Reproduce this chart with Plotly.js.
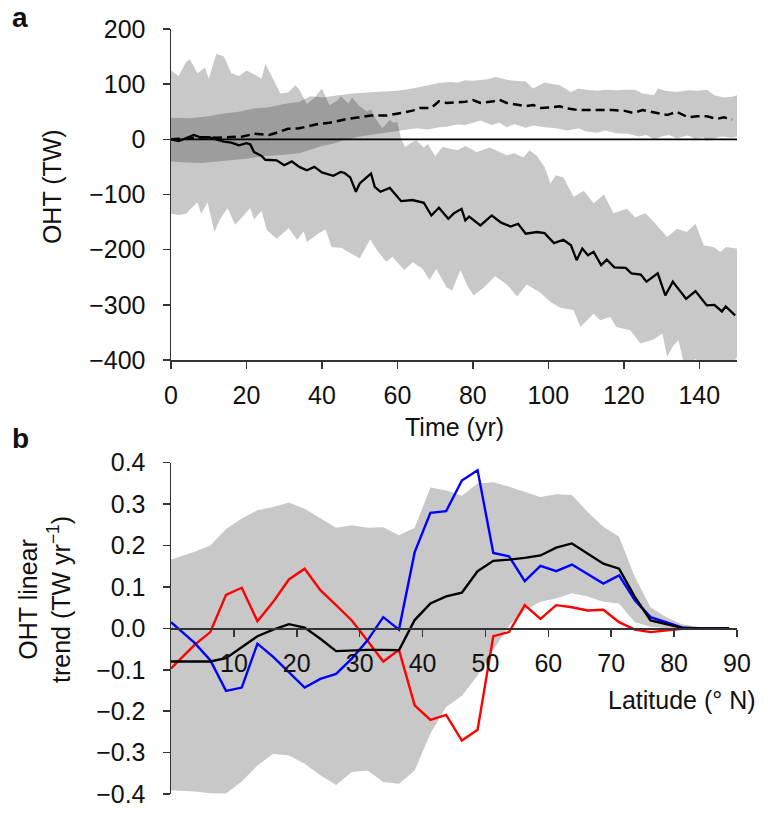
<!DOCTYPE html>
<html><head><meta charset="utf-8">
<script src="https://cdn.plot.ly/plotly-3.0.1.min.js"></script>
<style>html,body{margin:0;padding:0;background:#fff}#chart{width:768px;height:822px}</style>
</head><body><div id="chart"></div><script>
// ---------- Panel a data (Time in yr, OHT in TW) ----------
const solidT = [0,2,4,6,8,10,12,14,16,18,20,21,22,24,25,28,30,32,34,36,38,40,43,45,46,47.5,49,50,52,53,54,55.5,58,61,64,67,69,71,73.5,75,77,78,79,82,85,87.5,90,92,94,97,99,101.5,104,106,107.5,109,110.5,112,114,115.5,117.5,120.5,122,124.5,126,129,131,133,134,136.5,139,140.5,142,144,146,147,149.5];
const solidV = [0,-3,2,8,3,4,0,-4,-6,-11,-7,-9,-23,-30,-37,-38,-47,-40,-50,-56,-50,-60,-66,-59,-61,-69,-95,-80,-68,-62,-86,-95,-88,-112,-110,-115,-138,-124,-144,-134,-126,-147,-140,-156,-138,-151,-158,-153,-171,-168,-170,-188,-182,-192,-219,-198,-210,-204,-228,-218,-232,-233,-243,-245,-258,-243,-283,-258,-267,-289,-275,-289,-301,-300,-312,-303,-319];

const dashT = [0,4,8,12,16,19,22,26,28,31,34,36,39,42,46,50,53,57,60,62,64,66,69,71,73,76,78,80,82,85.5,87,89,92,94,96,98,101,103,105,107,110,112,115,117,120,122.5,125,128,131.5,134,137,139.5,142,144.7,146.5,148.7];
const dashV = [0,2,4,3,4,5,10,8,12,19,20,23,28,30,36,40,43,43,46,49,52,57,57,69,66,67,68,71,66,69,72,66,63,60,62,57,58,60,56,54,53,53,54,53,52,48,53,49,44,50,40,42,42,37,40,36];

const solidUpT = [0,2,4,5,7,9,10,12,14,16,18,20,22,24,25,27,29,31,33,34,36,38,40,42,44,45,47,48,50,52,53,54,56,57,58,59,60,61,62,64,65,67,68,70,72,74,76,78,81,84.5,87,89,91,93.4,95,97,99,100.6,102,104,106.7,109.4,112,114.7,117.3,120.8,123,125.7,128,131.5,134.1,136.7,139,141.2,143.8,145.6,147,149.2,150];
const solidUpV = [125,115,140,145,120,130,110,155,150,120,115,125,118,110,137,110,83,85,98,90,64,75,92,62,70,78,65,76,60,50,55,40,20,28,35,30,32,0,-14,-5,-2,-15,-8,-30,-14,-17,-20,-12,-23,-15,-22,-29,-25,-33,-20,-30,-50,-80,-65,-69,-104,-93,-116,-100,-134,-126,-141,-134,-150,-177,-162,-168,-153,-192,-195,-204,-195,-198,-198];
const solidLoT = [0,2,4,7,8,9.7,11.5,13,15,17,19,21,22,24,25.4,28,31.2,33.4,35.2,36,38.8,41,42.5,45.2,47,50,52.8,54.5,57,58.7,61.8,64.1,66.7,68.5,70.3,73,74.5,76.7,78.5,80.2,83,85.9,89,91.7,94.3,97.9,100.6,103,106.7,108.5,112,113.8,116.4,118,121.7,124.4,127.9,130.2,131.5,133,134.5,136,139,142,145,148.3,150];
const solidLoV = [-135,-137,-135,-114,-135,-114,-168,-145,-125,-155,-140,-125,-145,-130,-165,-180,-161,-182,-167,-186,-172,-163,-195,-197,-204,-216,-181,-200,-222,-213,-237,-223,-235,-255,-235,-268,-274,-237,-265,-283,-268,-248,-263,-285,-263,-278,-295,-305,-310,-340,-316,-328,-322,-340,-346,-370,-363,-352,-394,-375,-364,-410,-398,-420,-405,-412,-395];

const dashUpT = [0,5,10,14,18,22,26,30,34,37,40,44,48,52,56,60,64,68,71,74,76,78,80,84,86,89,91,94,96,99,101,103,106,108,110,113,115,118,120,123,125,128,129,131,134,137,139.5,142,144,146.5,148.7,150];
const dashUpV = [39,38,42,47,50,56,58,64,68,78,76,80,83,85,86,88,92,97,102,104,103,107,106,109,113,108,106,105,92,103,100,98,86,92,90,88,90,89,90,90,83,80,92,88,86,89,88,90,80,76,77,80];
const dashLoT = [0,4,8,12,16,20,25,30,34,37,40,43,46,50,55,60,65,68,71,73,76,78,80,82,85,87,89,91,94,96,99,102,105,108,110,113,115,118,121,124,126,128,130,132,134,137,139,141,142,144,146,148.7,150];
const dashLoV = [-40,-42,-43,-40,-38,-35,-30,-28,-25,-18,-12,-8,-1,5,10,15,20,18,22,23,27,26,30,34,26,30,22,28,21,25,22,20,16,20,14,12,16,11,10,5,8,0,5,8,2,7,1,4,-3,2,5,3,5];

const yTicksA = [200,100,0,-100,-200,-300,-400];
const yTickTextA = ['200','100','0','\u2212100','\u2212200','\u2212300','\u2212400'];
const xTicksA = [0,20,40,60,80,100,120,140];

// ---------- Panel b data (Latitude in deg N, trend in TW/yr) ----------
const lat = [0,3.75,6.25,8.75,11.25,13.75,16.25,18.75,21.25,23.75,26.25,28.75,31.25,33.75,36.25,38.75,41.25,43.75,46.25,48.75,51.25,53.75,56.25,58.75,61.25,63.75,66.25,68.75,71.25,73.75,76.25,78.75,81.25,83.75,86.25,88.75];
const blackB = [-0.08,-0.08,-0.08,-0.072,-0.045,-0.019,-0.003,0.01,0.002,-0.025,-0.055,-0.053,-0.052,-0.052,-0.053,0.02,0.06,0.077,0.086,0.138,0.163,0.166,0.17,0.176,0.195,0.205,0.18,0.156,0.144,0.076,0.019,0.01,0.001,0,0,0];
const blueB = [0.015,-0.035,-0.077,-0.151,-0.143,-0.037,-0.069,-0.105,-0.143,-0.122,-0.11,-0.073,-0.029,0.027,-0.003,0.184,0.279,0.283,0.357,0.382,0.182,0.174,0.114,0.151,0.138,0.154,0.132,0.108,0.128,0.068,0.027,0.015,0.002,0,0,0];
const redB = [-0.097,-0.04,-0.009,0.081,0.098,0.017,0.064,0.118,0.144,0.092,0.056,0.019,-0.03,-0.08,-0.052,-0.186,-0.221,-0.209,-0.271,-0.245,-0.019,-0.009,0.056,0.023,0.056,0.051,0.043,0.045,0.015,-0.003,-0.009,-0.005,-0.001,0,0,0];
const bandUpB = [0.166,0.185,0.2,0.24,0.265,0.285,0.293,0.304,0.289,0.265,0.243,0.249,0.243,0.244,0.225,0.243,0.34,0.333,0.32,0.35,0.353,0.342,0.329,0.317,0.324,0.322,0.281,0.245,0.221,0.124,0.051,0.027,0.01,0.004,0.001,0];
const bandLoB = [-0.391,-0.394,-0.398,-0.399,-0.37,-0.331,-0.303,-0.307,-0.327,-0.355,-0.378,-0.347,-0.343,-0.371,-0.375,-0.343,-0.254,-0.19,-0.163,-0.114,-0.053,0.007,0.043,0.064,0.072,0.085,0.077,0.064,0.06,0.015,0.004,0,0,0,0,0];

const yTicksB = [0.4,0.3,0.2,0.1,0,-0.1,-0.2,-0.3,-0.4];
const yTickTextB = ['0.4','0.3','0.2','0.1','0.0','\u22120.1','\u22120.2','\u22120.3','\u22120.4'];
const xTicksB = [10,20,30,40,50,60,70,80,90];

// ---------- helpers ----------
function polygon(upT, upV, loT, loV) {
  return {x: upT.concat(loT.slice().reverse()), y: upV.concat(loV.slice().reverse())};
}
const FONT = 'Liberation Sans, Arial, Helvetica, sans-serif';
const FS = 25;
const bandFill = 'rgba(0,0,0,0.215)';

const pa1 = polygon(solidUpT, solidUpV, solidLoT, solidLoV);
const pa2 = polygon(dashUpT, dashUpV, dashLoT, dashLoV);
const pb = polygon(lat, bandUpB, lat, bandLoB);

const traces = [
  {x: pa1.x, y: pa1.y, xaxis:'x', yaxis:'y', type:'scatter', mode:'lines', fill:'toself', fillcolor: bandFill, line:{width:0}, hoverinfo:'skip'},
  {x: pa2.x, y: pa2.y, xaxis:'x', yaxis:'y', type:'scatter', mode:'lines', fill:'toself', fillcolor: bandFill, line:{width:0}, hoverinfo:'skip'},
  {x: dashT, y: dashV, xaxis:'x', yaxis:'y', type:'scatter', mode:'lines', line:{color:'#000', width:2.5, dash:'9px,5px'}},
  {x: solidT, y: solidV, xaxis:'x', yaxis:'y', type:'scatter', mode:'lines', line:{color:'#000', width:2.3}},
  {x: pb.x, y: pb.y, xaxis:'x2', yaxis:'y2', type:'scatter', mode:'lines', fill:'toself', fillcolor:'#c8c8c8', line:{width:0}, hoverinfo:'skip'},
  {x: lat, y: redB, xaxis:'x2', yaxis:'y2', type:'scatter', mode:'lines', line:{color:'#ff0000', width:2.4}},
  {x: lat, y: blueB, xaxis:'x2', yaxis:'y2', type:'scatter', mode:'lines', line:{color:'#0000ff', width:2.4}},
  {x: lat, y: blackB, xaxis:'x2', yaxis:'y2', type:'scatter', mode:'lines', line:{color:'#000', width:2.4}}
];

const axCommon = {showgrid:false, zeroline:false, showline:true, linecolor:'#333', linewidth:1.5,
  ticks:'outside', ticklen:7, tickwidth:1.5, tickcolor:'#333', automargin:false,
  tickfont:{family:FONT, size:FS, color:'#111'}};

const layout = {
  width:768, height:822,
  margin:{l:171, r:31, t:29, b:28},
  paper_bgcolor:'#fff', plot_bgcolor:'rgba(0,0,0,0)',
  showlegend:false,
  font:{family:FONT, size:FS, color:'#111'},
  xaxis: Object.assign({}, axCommon, {domain:[0,1], range:[0,150], anchor:'y', tickmode:'array', tickvals:xTicksA, ticklabelstandoff:5}),
  yaxis: Object.assign({}, axCommon, {domain:[0.5673,1], range:[-400,200], anchor:'x', tickmode:'array', tickvals:yTicksA, ticktext:yTickTextA, ticklabelstandoff:12}),
  xaxis2: Object.assign({}, axCommon, {domain:[0,1], range:[0,90], anchor:'free', position:0.21655, tickmode:'array', tickvals:xTicksB, ticklabelstandoff:5, layer:'above traces'}),
  yaxis2: Object.assign({}, axCommon, {domain:[0,0.4331], range:[-0.4,0.4], anchor:'x2', tickmode:'array', tickvals:yTicksB, ticktext:yTickTextB, ticklabelstandoff:12}),
  shapes:[
    {type:'line', xref:'x', yref:'y', x0:0, x1:150, y0:0, y1:0, line:{color:'#000', width:1.6}, layer:'above'}
  ],
  annotations:[
    {text:'<b>a</b>', xref:'paper', yref:'paper', x:-0.285, y:1.038, xanchor:'left', yanchor:'top', showarrow:false, font:{family:FONT, size:28, color:'#111'}},
    {text:'<b>b</b>', xref:'paper', yref:'paper', x:-0.285, y:0.487, xanchor:'left', yanchor:'top', showarrow:false, font:{family:FONT, size:28, color:'#111'}},
    {text:'Time (yr)', xref:'paper', yref:'paper', x:0.5, y:0.4797, xanchor:'center', yanchor:'middle', showarrow:false, font:{family:FONT, size:FS, color:'#111'}},
    {text:'OHT (TW)', xref:'paper', yref:'paper', x:-0.21, y:0.7935, xanchor:'center', yanchor:'middle', textangle:-90, showarrow:false, font:{family:FONT, size:FS, color:'#111'}},
    {text:'Latitude (\u00b0 N)', xref:'paper', yref:'paper', x:1.037, y:0.123, xanchor:'right', yanchor:'middle', showarrow:false, font:{family:FONT, size:FS, color:'#111'}},
    {text:'OHT linear<br>trend (TW yr<sup>\u22121</sup>)', xref:'paper', yref:'paper', x:-0.2226, y:0.2536, xanchor:'center', yanchor:'middle', textangle:-90, showarrow:false, font:{family:FONT, size:FS, color:'#111'}}
  ]
};

Plotly.newPlot('chart', traces, layout, {displayModeBar:false, staticPlot:true});
</script></body></html>
